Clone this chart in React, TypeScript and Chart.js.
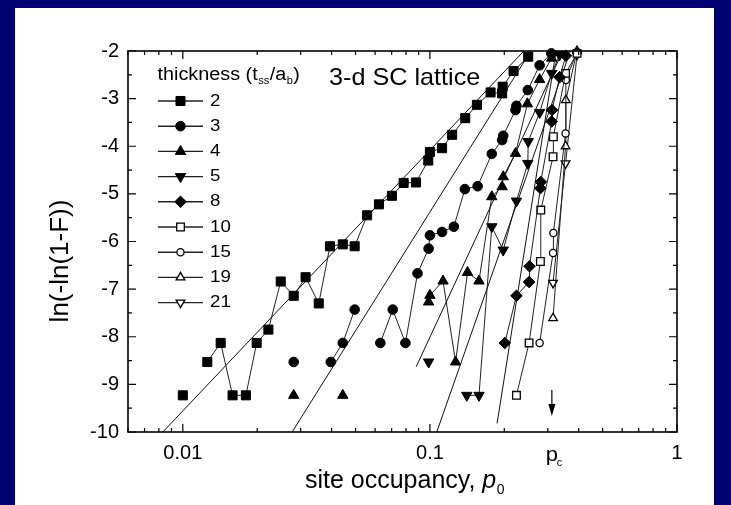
import { useEffect, useRef } from 'react';
import { Chart, registerables } from 'chart.js';

Chart.register(...registerables);

const FONT = '"Liberation Sans", Arial, Helvetica, sans-serif';
const NAVY = '#000070';

// ---------------- data ----------------
const thicknessLabels = ['2', '3', '4', '5', '8', '10', '15', '19', '21'];

// null = break in the connecting line
const p2 = [0.0100, null, 0.01256, 0.01423, 0.0159, 0.0180, 0.0199, 0.0222, 0.0249, 0.0281, 0.0314, 0.0355, 0.0394, 0.0444, 0.0496, 0.0557, 0.0622, 0.0702, 0.0783, 0.0878, 0.0985, 0.1, 0.112, 0.123, 0.139, 0.155, 0.176, 0.196, 0.197, 0.218, 0.25];
const v2 = [-9.23, null, -8.53, -8.13, -9.23, -9.23, -8.13, -7.85, -6.84, -7.14, -6.75, -7.30, -6.10, -6.06, -6.10, -5.45, -5.22, -5.04, -4.77, -4.76, -4.30, -4.12, -4.04, -3.76, -3.41, -3.13, -2.87, -2.89, -2.75, -2.42, -2.12];

const p3 = [0.0281, null, 0.0397, 0.0444, 0.0496, null, 0.063, 0.0707, 0.0796, 0.0891, 0.0988, 0.1, 0.112, 0.125, 0.1385, 0.156, 0.178, 0.196, 0.198, 0.222, 0.224, 0.249, 0.278, 0.31];
const v3 = [-8.53, null, -8.53, -8.13, -7.43, null, -8.13, -7.43, -8.13, -6.67, -6.15, -5.87, -5.80, -5.69, -4.90, -4.84, -4.16, -3.87, -3.78, -3.24, -3.15, -2.82, -2.30, -2.05];

const p4 = [0.0281, null, 0.0444, null, 0.0988, 0.1, 0.113, 0.127, 0.142, 0.158, 0.178, 0.196, 0.198, 0.222, 0.248, 0.278, 0.311];
const v4 = [-9.23, null, -9.23, null, -7.27, -7.13, -6.83, -8.53, -6.65, -6.83, -5.06, -4.85, -4.64, -4.15, -3.11, -2.60, -2.15];

const p5 = [0.0988, null, 0.141, 0.158, 0.178, 0.198, 0.224, 0.249, 0.25, 0.278, 0.311, 0.335];
const v5 = [-8.53, null, -9.23, -9.23, -5.69, -6.18, -5.15, -4.36, -3.90, -3.29, -2.47, -2.08];

const p8 = [0.201, 0.224, 0.252, 0.253, 0.28, 0.281, 0.311, 0.312, 0.335, 0.355];
const v8 = [-8.13, -7.14, -6.85, -6.52, -4.88, -4.75, -3.48, -3.24, -2.55, -2.10];

const p10 = [0.224, 0.252, 0.280, 0.281, 0.315, 0.316, 0.354, 0.394];
const v10 = [-9.23, -8.13, -6.42, -5.34, -4.22, -3.80, -2.47, -2.05];

const p15 = [0.278, 0.315, 0.316, 0.354, 0.355, 0.394];
const v15 = [-8.13, -6.24, -5.82, -3.73, -2.61, -2.02];

const p19 = [0.315, 0.354, 0.355, 0.394];
const v19 = [-7.61, -4.0, -3.03, -2.0];

const p21 = [0.315, 0.354, 0.394];
const v21 = [-6.87, -4.36, -2.08];

// straight fit lines (on log-linear axes)
const fitP = [[0.0083, 0.24], [0.0277, 0.256], [0.088, 0.345], [0.1066, 0.37], [0.187, 0.324]];
const fitV = [[-10, -2], [-10, -2], [-8.63, -2], [-10, -2], [-9.82, -2]];

const xTickValues = [0.01, 0.1, 1];
const xTickLabels = ['0.01', '0.1', '1'];
const yTickValues = [-10, -9, -8, -7, -6, -5, -4, -3, -2];
const pc = 0.3116;

const seriesP = [p2, p3, p4, p5, p8, p10, p15, p19, p21];
const seriesV = [v2, v3, v4, v5, v8, v10, v15, v19, v21];

type MStyle = { style: string; r: number; fill: boolean; rot: number };
const markerStyles: MStyle[] = [
  { style: 'rect', r: 6.4, fill: true, rot: 0 },
  { style: 'circle', r: 4.8, fill: true, rot: 0 },
  { style: 'triangle', r: 6, fill: true, rot: 0 },
  { style: 'triangle', r: 6, fill: true, rot: 180 },
  { style: 'rectRot', r: 5.8, fill: true, rot: 0 },
  { style: 'rect', r: 5.4, fill: false, rot: 0 },
  { style: 'circle', r: 3.6, fill: false, rot: 0 },
  { style: 'triangle', r: 5, fill: false, rot: 0 },
  { style: 'triangle', r: 5, fill: false, rot: 180 },
];

function toPoints(p: (number | null)[], v: (number | null)[]) {
  const out: { x: number; y: number | null }[] = [];
  let lastX = p.find((x) => x != null) as number;
  for (let i = 0; i < p.length; i++) {
    const px = p[i];
    const vy = v[i];
    if (px == null || vy == null) out.push({ x: lastX, y: null });
    else {
      out.push({ x: px, y: vy });
      lastX = px;
    }
  }
  return out;
}

function drawMarker(ctx: CanvasRenderingContext2D, m: MStyle, x: number, y: number) {
  const r = m.r;
  ctx.beginPath();
  if (m.style === 'rect') {
    const s = r * Math.SQRT1_2;
    ctx.rect(x - s, y - s, 2 * s, 2 * s);
  } else if (m.style === 'circle') {
    ctx.arc(x, y, r, 0, Math.PI * 2);
  } else if (m.style === 'triangle') {
    let a = (m.rot * Math.PI) / 180;
    ctx.moveTo(x + Math.sin(a) * r, y - Math.cos(a) * r);
    a += (2 * Math.PI) / 3;
    ctx.lineTo(x + Math.sin(a) * r, y - Math.cos(a) * r);
    a += (2 * Math.PI) / 3;
    ctx.lineTo(x + Math.sin(a) * r, y - Math.cos(a) * r);
    ctx.closePath();
  } else {
    ctx.moveTo(x, y - r);
    ctx.lineTo(x + r, y);
    ctx.lineTo(x, y + r);
    ctx.lineTo(x - r, y);
    ctx.closePath();
  }
  ctx.fillStyle = m.fill ? '#000' : '#fff';
  ctx.fill();
  ctx.lineWidth = m.fill ? 1 : 1.3;
  ctx.strokeStyle = '#000';
  ctx.stroke();
}

function txt(
  ctx: CanvasRenderingContext2D,
  s: string,
  x: number,
  y: number,
  size: number,
  o: { align?: CanvasTextAlign; baseline?: CanvasTextBaseline; italic?: boolean; sx?: number } = {}
) {
  ctx.save();
  ctx.font = `${o.italic ? 'italic ' : ''}${size}px ${FONT}`;
  ctx.textAlign = o.align || 'left';
  ctx.textBaseline = o.baseline || 'alphabetic';
  ctx.fillStyle = '#000';
  const w = ctx.measureText(s).width * (o.sx || 1);
  ctx.translate(x, y);
  ctx.scale(o.sx || 1, 1);
  ctx.fillText(s, 0, 0);
  ctx.restore();
  return w;
}

function measure(ctx: CanvasRenderingContext2D, s: string, size: number, italic = false, sx = 1) {
  ctx.save();
  ctx.font = `${italic ? 'italic ' : ''}${size}px ${FONT}`;
  const w = ctx.measureText(s).width * sx;
  ctx.restore();
  return w;
}

const backgroundPlugin = {
  id: 'bgPanel',
  beforeDraw(chart: any) {
    const ctx = chart.ctx as CanvasRenderingContext2D;
    ctx.save();
    ctx.fillStyle = NAVY;
    ctx.fillRect(0, 0, chart.width, chart.height);
    ctx.fillStyle = '#ffffff';
    ctx.fillRect(15, 8, 699, 497);
    ctx.restore();
  },
};

const framePlugin = {
  id: 'frameDecor',
  afterDraw(chart: any) {
    const ctx = chart.ctx as CanvasRenderingContext2D;
    const { left, right, top, bottom } = chart.chartArea;
    const xs = chart.scales.x;
    const ys = chart.scales.y;
    ctx.save();
    ctx.strokeStyle = '#000';
    ctx.lineWidth = 1.6;
    ctx.strokeRect(left, top, right - left, bottom - top);

    ctx.lineWidth = 1.2;
    ctx.beginPath();
    // y ticks (inward, both sides)
    for (let v = -10; v <= -2; v += 0.5) {
      const y = ys.getPixelForValue(v);
      const len = Number.isInteger(v) ? 8 : 4;
      ctx.moveTo(left, y);
      ctx.lineTo(left + len, y);
      ctx.moveTo(right, y);
      ctx.lineTo(right - len, y);
    }
    // x ticks (log)
    for (const d of [0.001, 0.01, 0.1, 1]) {
      for (let k = 1; k <= 9; k++) {
        const v = k * d;
        if (v < xs.min - 1e-9 || v > xs.max + 1e-9) continue;
        const x = xs.getPixelForValue(v);
        const len = k === 1 ? 8 : 4;
        ctx.moveTo(x, bottom);
        ctx.lineTo(x, bottom - len);
        ctx.moveTo(x, top);
        ctx.lineTo(x, top + len);
      }
    }
    ctx.stroke();

    // p_c arrow
    const xpc = xs.getPixelForValue(pc);
    ctx.lineWidth = 1.2;
    ctx.beginPath();
    ctx.moveTo(xpc, 390);
    ctx.lineTo(xpc, 408);
    ctx.stroke();
    ctx.beginPath();
    ctx.moveTo(xpc - 3.5, 404);
    ctx.lineTo(xpc + 3.5, 404);
    ctx.lineTo(xpc, 416);
    ctx.closePath();
    ctx.fillStyle = '#000';
    ctx.fill();

    // p_c tick label
    txt(ctx, 'p', xpc - 6, 461, 20, { sx: 1.1 });
    txt(ctx, 'c', xpc + 5, 466, 11);

    // annotation
    txt(ctx, '3-d SC lattice', 329, 78, 24, { baseline: 'middle', sx: 1.05 });

    // legend title
    let lx = 157.5;
    const ly = 80;
    const sx = 1.1;
    lx += txt(ctx, 'thickness (t', lx, ly, 18, { sx });
    lx += txt(ctx, 'ss', lx + 0.5, ly + 4, 10, { sx });
    lx += txt(ctx, '/a', lx + 1, ly, 18, { sx }) + 1;
    lx += txt(ctx, 'b', lx + 0.5, ly + 4, 10, { sx });
    txt(ctx, ')', lx + 1, ly, 18, { sx });

    // legend entries
    for (let i = 0; i < thicknessLabels.length; i++) {
      const y = 101 + i * 25.2;
      ctx.beginPath();
      ctx.moveTo(158, y);
      ctx.lineTo(203, y);
      ctx.lineWidth = 1.4;
      ctx.strokeStyle = '#222';
      ctx.stroke();
      drawMarker(ctx, markerStyles[i], 180.5, y);
      txt(ctx, thicknessLabels[i], 210, y, 17, { baseline: 'middle', sx: 1.1 });
    }

    // axis titles
    const t1 = 'site occupancy, ';
    const w1 = measure(ctx, t1, 25);
    const w2 = measure(ctx, 'p', 25, true);
    const w3 = measure(ctx, '0', 14);
    let tx = 404.5 - (w1 + w2 + w3) / 2;
    const tb = 488;
    tx += txt(ctx, t1, tx, tb, 25);
    tx += txt(ctx, 'p', tx, tb, 25, { italic: true });
    txt(ctx, '0', tx + 0.5, tb + 6, 14);

    ctx.save();
    ctx.translate(61, 261);
    ctx.rotate(-Math.PI / 2);
    txt(ctx, 'ln(-ln(1-F))', 0, 0, 26, { align: 'center', baseline: 'middle' });
    ctx.restore();

    ctx.restore();
  },
};

export default function App() {
  const ref = useRef<HTMLCanvasElement | null>(null);

  useEffect(() => {
    document.body.style.margin = '0';
    const canvas = ref.current;
    if (!canvas) return;

    const fitSets = fitP.map((fp, i) => ({
      label: 'fit' + i,
      data: toPoints(fp, fitV[i]),
      borderColor: '#111',
      borderWidth: 1,
      pointRadius: 0,
      fill: false,
      tension: 0,
      clip: false as any,
    }));

    const seriesSets = seriesP.map((sp, i) => {
      const m = markerStyles[i];
      return {
        label: thicknessLabels[i],
        data: toPoints(sp, seriesV[i]),
        borderColor: '#222',
        borderWidth: 1,
        pointStyle: m.style as any,
        pointRadius: m.r,
        pointRotation: m.rot,
        pointBackgroundColor: m.fill ? '#000' : '#fff',
        pointBorderColor: '#000',
        pointBorderWidth: m.fill ? 1 : 1.3,
        fill: false,
        tension: 0,
        spanGaps: false,
        clip: false as any,
      };
    });

    const chart = new Chart(canvas, {
      type: 'line',
      data: { datasets: [...fitSets, ...seriesSets] as any },
      options: {
        animation: false,
        responsive: false,
        maintainAspectRatio: false,
        events: [],
        layout: { padding: { left: 0, right: 54, top: 51, bottom: 0 } },
        plugins: {
          legend: { display: false },
          tooltip: { enabled: false },
          title: { display: false },
        },
        scales: {
          x: {
            type: 'logarithmic',
            min: 0.006,
            max: 1,
            grid: { display: false, drawTicks: false },
            border: { display: false },
            afterBuildTicks: (s: any) => {
              s.ticks = xTickValues.map((v) => ({ value: v }));
            },
            afterFit: (s: any) => {
              s.height = 73;
            },
            ticks: {
              autoSkip: false,
              maxRotation: 0,
              minRotation: 0,
              padding: 9,
              color: '#000',
              font: { family: FONT, size: 20 },
              callback: (v: any) => {
                const i = xTickValues.findIndex((t) => Math.abs(t - Number(v)) < 1e-9);
                return i >= 0 ? xTickLabels[i] : '';
              },
            },
          },
          y: {
            type: 'linear',
            min: -10,
            max: -2,
            grid: { display: false, drawTicks: false },
            border: { display: false },
            afterBuildTicks: (s: any) => {
              s.ticks = yTickValues.map((v) => ({ value: v }));
            },
            afterFit: (s: any) => {
              s.width = 128;
            },
            ticks: {
              padding: 9,
              color: '#000',
              font: { family: FONT, size: 20 },
              callback: (v: any) => String(v),
            },
          },
        },
      },
      plugins: [backgroundPlugin, framePlugin],
    });

    return () => chart.destroy();
  }, []);

  return (
    <div style={{ width: 731, height: 505, background: NAVY, overflow: 'hidden' }}>
      <canvas ref={ref} width={731} height={505} style={{ display: 'block', width: 731, height: 505 }} />
    </div>
  );
}
